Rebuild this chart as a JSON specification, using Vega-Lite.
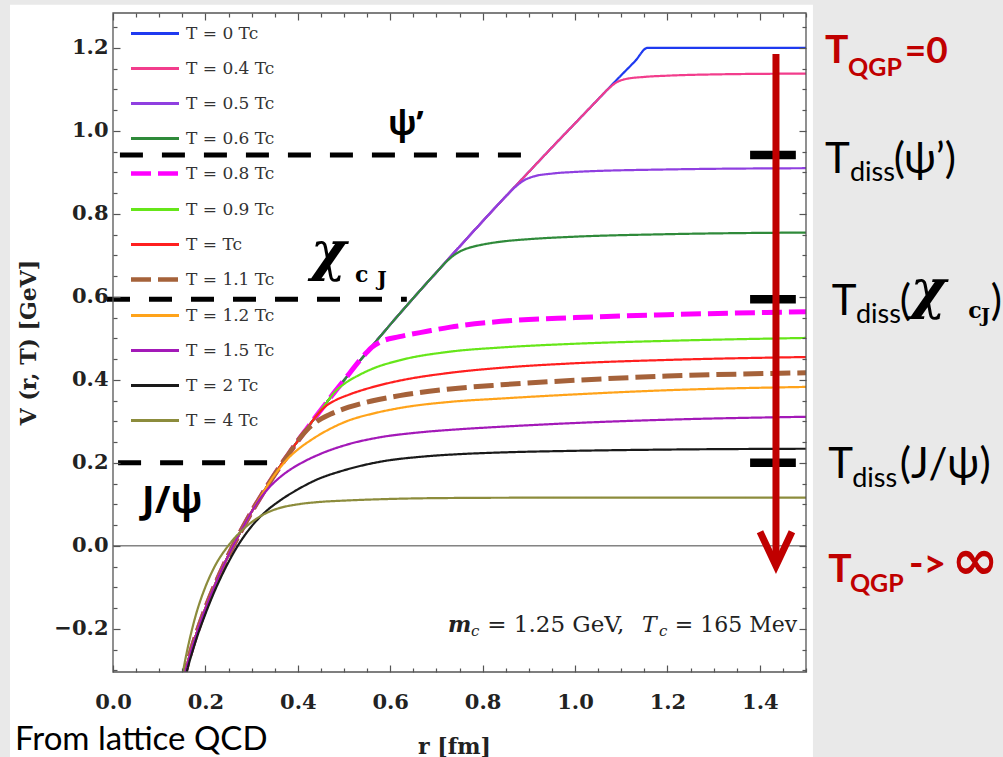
{
  "$schema": "https://vega.github.io/schema/vega-lite/v6.json",
  "width": 693,
  "height": 659,
  "autosize": {"type": "none"},
  "padding": {"left": 113, "top": 13, "right": 197, "bottom": 85},
  "background": "#e9e9e9",
  "config": {
    "view": {"stroke": null},
    "legend": {
      "orient": "none",
      "legendX": 33.5,
      "legendY": 12,
      "padding": 0,
      "symbolType": "M-6,0H6",
      "symbolSize": 64,
      "labelOffset": 22.5,
      "labelFont": "DejaVu Serif",
      "labelFontSize": 17,
      "labelColor": "#333",
      "rowPadding": 17,
      "labelLimit": 200,
      "zindex": 2
    }
  },
  "datasets": {
    "potential": [
      {"T":"0","r":0.15,"v":-0.33},{"T":"0","r":0.16,"v":-0.288},{"T":"0","r":0.17,"v":-0.249},{"T":"0","r":0.18,"v":-0.214},{"T":"0","r":0.2,"v":-0.151},{"T":"0","r":0.22,"v":-0.096},{"T":"0","r":0.24,"v":-0.046},{"T":"0","r":0.26,"v":0.0},{"T":"0","r":0.28,"v":0.042},{"T":"0","r":0.3,"v":0.082},{"T":"0","r":0.32,"v":0.119},{"T":"0","r":0.34,"v":0.155},{"T":"0","r":0.36,"v":0.189},{"T":"0","r":0.38,"v":0.221},{"T":"0","r":0.4,"v":0.253},{"T":"0","r":0.42,"v":0.283},{"T":"0","r":0.44,"v":0.313},{"T":"0","r":0.46,"v":0.342},{"T":"0","r":0.48,"v":0.371},{"T":"0","r":0.5,"v":0.399},{"T":"0","r":0.55,"v":0.467},{"T":"0","r":0.6,"v":0.533},{"T":"0","r":0.65,"v":0.597},{"T":"0","r":0.7,"v":0.659},{"T":"0","r":0.75,"v":0.721},{"T":"0","r":0.8,"v":0.782},{"T":"0","r":0.85,"v":0.842},{"T":"0","r":0.9,"v":0.901},{"T":"0","r":0.95,"v":0.96},{"T":"0","r":1.0,"v":1.018},{"T":"0","r":1.05,"v":1.076},{"T":"0","r":1.1,"v":1.134},{"T":"0","r":1.13,"v":1.168},{"T":"0","r":1.157,"v":1.2},{"T":"0","r":1.5,"v":1.2},

      {"T":"0.4","r":0.15,"v":-0.33},{"T":"0.4","r":0.16,"v":-0.288},{"T":"0.4","r":0.17,"v":-0.249},{"T":"0.4","r":0.18,"v":-0.214},{"T":"0.4","r":0.2,"v":-0.151},{"T":"0.4","r":0.22,"v":-0.096},{"T":"0.4","r":0.24,"v":-0.046},{"T":"0.4","r":0.26,"v":0.0},{"T":"0.4","r":0.28,"v":0.042},{"T":"0.4","r":0.3,"v":0.082},{"T":"0.4","r":0.32,"v":0.119},{"T":"0.4","r":0.34,"v":0.155},{"T":"0.4","r":0.36,"v":0.189},{"T":"0.4","r":0.38,"v":0.221},{"T":"0.4","r":0.4,"v":0.253},{"T":"0.4","r":0.42,"v":0.283},{"T":"0.4","r":0.44,"v":0.313},{"T":"0.4","r":0.46,"v":0.342},{"T":"0.4","r":0.48,"v":0.371},{"T":"0.4","r":0.5,"v":0.399},{"T":"0.4","r":0.55,"v":0.467},{"T":"0.4","r":0.6,"v":0.533},{"T":"0.4","r":0.65,"v":0.597},{"T":"0.4","r":0.7,"v":0.659},{"T":"0.4","r":0.75,"v":0.721},{"T":"0.4","r":0.8,"v":0.782},{"T":"0.4","r":0.85,"v":0.842},{"T":"0.4","r":0.9,"v":0.901},{"T":"0.4","r":0.95,"v":0.96},{"T":"0.4","r":1.0,"v":1.018},{"T":"0.4","r":1.05,"v":1.076},{"T":"0.4","r":1.07,"v":1.099},{"T":"0.4","r":1.09,"v":1.117},{"T":"0.4","r":1.11,"v":1.125},{"T":"0.4","r":1.15,"v":1.13},{"T":"0.4","r":1.2,"v":1.133},{"T":"0.4","r":1.3,"v":1.136},{"T":"0.4","r":1.5,"v":1.138},

      {"T":"0.5","r":0.15,"v":-0.33},{"T":"0.5","r":0.16,"v":-0.288},{"T":"0.5","r":0.17,"v":-0.249},{"T":"0.5","r":0.18,"v":-0.214},{"T":"0.5","r":0.2,"v":-0.151},{"T":"0.5","r":0.22,"v":-0.096},{"T":"0.5","r":0.24,"v":-0.046},{"T":"0.5","r":0.26,"v":0.0},{"T":"0.5","r":0.28,"v":0.042},{"T":"0.5","r":0.3,"v":0.082},{"T":"0.5","r":0.32,"v":0.119},{"T":"0.5","r":0.34,"v":0.155},{"T":"0.5","r":0.36,"v":0.189},{"T":"0.5","r":0.38,"v":0.221},{"T":"0.5","r":0.4,"v":0.253},{"T":"0.5","r":0.42,"v":0.283},{"T":"0.5","r":0.44,"v":0.313},{"T":"0.5","r":0.46,"v":0.342},{"T":"0.5","r":0.48,"v":0.371},{"T":"0.5","r":0.5,"v":0.399},{"T":"0.5","r":0.55,"v":0.467},{"T":"0.5","r":0.6,"v":0.533},{"T":"0.5","r":0.65,"v":0.597},{"T":"0.5","r":0.7,"v":0.659},{"T":"0.5","r":0.75,"v":0.721},{"T":"0.5","r":0.8,"v":0.782},{"T":"0.5","r":0.85,"v":0.842},{"T":"0.5","r":0.87,"v":0.864},{"T":"0.5","r":0.89,"v":0.881},{"T":"0.5","r":0.91,"v":0.89},{"T":"0.5","r":0.95,"v":0.897},{"T":"0.5","r":1.0,"v":0.901},{"T":"0.5","r":1.2,"v":0.907},{"T":"0.5","r":1.5,"v":0.91},

      {"T":"0.6","r":0.15,"v":-0.33},{"T":"0.6","r":0.16,"v":-0.288},{"T":"0.6","r":0.17,"v":-0.249},{"T":"0.6","r":0.18,"v":-0.214},{"T":"0.6","r":0.2,"v":-0.151},{"T":"0.6","r":0.22,"v":-0.096},{"T":"0.6","r":0.24,"v":-0.046},{"T":"0.6","r":0.26,"v":0.0},{"T":"0.6","r":0.28,"v":0.042},{"T":"0.6","r":0.3,"v":0.082},{"T":"0.6","r":0.32,"v":0.119},{"T":"0.6","r":0.34,"v":0.155},{"T":"0.6","r":0.36,"v":0.189},{"T":"0.6","r":0.38,"v":0.221},{"T":"0.6","r":0.4,"v":0.253},{"T":"0.6","r":0.42,"v":0.283},{"T":"0.6","r":0.44,"v":0.313},{"T":"0.6","r":0.46,"v":0.342},{"T":"0.6","r":0.48,"v":0.371},{"T":"0.6","r":0.5,"v":0.399},{"T":"0.6","r":0.55,"v":0.467},{"T":"0.6","r":0.6,"v":0.533},{"T":"0.6","r":0.65,"v":0.597},{"T":"0.6","r":0.7,"v":0.659},{"T":"0.6","r":0.72,"v":0.683},{"T":"0.6","r":0.74,"v":0.702},{"T":"0.6","r":0.76,"v":0.714},{"T":"0.6","r":0.78,"v":0.721},{"T":"0.6","r":0.8,"v":0.726},{"T":"0.6","r":0.84,"v":0.733},{"T":"0.6","r":0.9,"v":0.739},{"T":"0.6","r":1.0,"v":0.745},{"T":"0.6","r":1.2,"v":0.751},{"T":"0.6","r":1.5,"v":0.755},

      {"T":"0.8","r":0.15,"v":-0.33},{"T":"0.8","r":0.16,"v":-0.288},{"T":"0.8","r":0.17,"v":-0.249},{"T":"0.8","r":0.18,"v":-0.214},{"T":"0.8","r":0.2,"v":-0.151},{"T":"0.8","r":0.22,"v":-0.096},{"T":"0.8","r":0.24,"v":-0.046},{"T":"0.8","r":0.26,"v":0.0},{"T":"0.8","r":0.28,"v":0.042},{"T":"0.8","r":0.3,"v":0.082},{"T":"0.8","r":0.32,"v":0.119},{"T":"0.8","r":0.34,"v":0.155},{"T":"0.8","r":0.36,"v":0.189},{"T":"0.8","r":0.38,"v":0.221},{"T":"0.8","r":0.4,"v":0.253},{"T":"0.8","r":0.42,"v":0.283},{"T":"0.8","r":0.44,"v":0.313},{"T":"0.8","r":0.46,"v":0.342},{"T":"0.8","r":0.48,"v":0.371},{"T":"0.8","r":0.5,"v":0.399},{"T":"0.8","r":0.55,"v":0.467},{"T":"0.8","r":0.56,"v":0.478},{"T":"0.8","r":0.58,"v":0.492},{"T":"0.8","r":0.62,"v":0.504},{"T":"0.8","r":0.68,"v":0.517},{"T":"0.8","r":0.73,"v":0.527},{"T":"0.8","r":0.84,"v":0.541},{"T":"0.8","r":1.0,"v":0.55},{"T":"0.8","r":1.2,"v":0.557},{"T":"0.8","r":1.5,"v":0.564},

      {"T":"0.9","r":0.15,"v":-0.33},{"T":"0.9","r":0.16,"v":-0.288},{"T":"0.9","r":0.17,"v":-0.249},{"T":"0.9","r":0.18,"v":-0.214},{"T":"0.9","r":0.2,"v":-0.151},{"T":"0.9","r":0.22,"v":-0.096},{"T":"0.9","r":0.24,"v":-0.046},{"T":"0.9","r":0.26,"v":0.0},{"T":"0.9","r":0.28,"v":0.042},{"T":"0.9","r":0.3,"v":0.082},{"T":"0.9","r":0.32,"v":0.119},{"T":"0.9","r":0.34,"v":0.155},{"T":"0.9","r":0.36,"v":0.189},{"T":"0.9","r":0.38,"v":0.221},{"T":"0.9","r":0.4,"v":0.253},{"T":"0.9","r":0.42,"v":0.283},{"T":"0.9","r":0.44,"v":0.313},{"T":"0.9","r":0.46,"v":0.342},{"T":"0.9","r":0.48,"v":0.371},{"T":"0.9","r":0.5,"v":0.39},{"T":"0.9","r":0.53,"v":0.41},{"T":"0.9","r":0.56,"v":0.426},{"T":"0.9","r":0.62,"v":0.447},{"T":"0.9","r":0.73,"v":0.468},{"T":"0.9","r":0.84,"v":0.478},{"T":"0.9","r":1.0,"v":0.487},{"T":"0.9","r":1.2,"v":0.494},{"T":"0.9","r":1.5,"v":0.501},

      {"T":"1","r":0.15,"v":-0.33},{"T":"1","r":0.16,"v":-0.288},{"T":"1","r":0.17,"v":-0.249},{"T":"1","r":0.18,"v":-0.214},{"T":"1","r":0.2,"v":-0.151},{"T":"1","r":0.22,"v":-0.096},{"T":"1","r":0.24,"v":-0.046},{"T":"1","r":0.26,"v":0.0},{"T":"1","r":0.28,"v":0.042},{"T":"1","r":0.3,"v":0.082},{"T":"1","r":0.32,"v":0.119},{"T":"1","r":0.34,"v":0.155},{"T":"1","r":0.36,"v":0.189},{"T":"1","r":0.38,"v":0.221},{"T":"1","r":0.4,"v":0.253},{"T":"1","r":0.42,"v":0.283},{"T":"1","r":0.44,"v":0.313},{"T":"1","r":0.46,"v":0.336},{"T":"1","r":0.48,"v":0.35},{"T":"1","r":0.51,"v":0.364},{"T":"1","r":0.56,"v":0.382},{"T":"1","r":0.62,"v":0.398},{"T":"1","r":0.73,"v":0.417},{"T":"1","r":0.84,"v":0.429},{"T":"1","r":1.0,"v":0.44},{"T":"1","r":1.2,"v":0.448},{"T":"1","r":1.5,"v":0.455},

      {"T":"1.1","r":0.15,"v":-0.33},{"T":"1.1","r":0.16,"v":-0.288},{"T":"1.1","r":0.17,"v":-0.249},{"T":"1.1","r":0.18,"v":-0.214},{"T":"1.1","r":0.2,"v":-0.151},{"T":"1.1","r":0.22,"v":-0.096},{"T":"1.1","r":0.24,"v":-0.046},{"T":"1.1","r":0.26,"v":0.0},{"T":"1.1","r":0.28,"v":0.042},{"T":"1.1","r":0.3,"v":0.082},{"T":"1.1","r":0.32,"v":0.119},{"T":"1.1","r":0.34,"v":0.155},{"T":"1.1","r":0.36,"v":0.189},{"T":"1.1","r":0.38,"v":0.221},{"T":"1.1","r":0.4,"v":0.253},{"T":"1.1","r":0.42,"v":0.28},{"T":"1.1","r":0.44,"v":0.299},{"T":"1.1","r":0.47,"v":0.317},{"T":"1.1","r":0.51,"v":0.334},{"T":"1.1","r":0.56,"v":0.349},{"T":"1.1","r":0.62,"v":0.362},{"T":"1.1","r":0.73,"v":0.378},{"T":"1.1","r":0.84,"v":0.388},{"T":"1.1","r":1.0,"v":0.399},{"T":"1.1","r":1.2,"v":0.409},{"T":"1.1","r":1.5,"v":0.417},

      {"T":"1.2","r":0.15,"v":-0.33},{"T":"1.2","r":0.16,"v":-0.288},{"T":"1.2","r":0.17,"v":-0.249},{"T":"1.2","r":0.18,"v":-0.214},{"T":"1.2","r":0.2,"v":-0.151},{"T":"1.2","r":0.22,"v":-0.096},{"T":"1.2","r":0.24,"v":-0.046},{"T":"1.2","r":0.26,"v":0.0},{"T":"1.2","r":0.28,"v":0.042},{"T":"1.2","r":0.3,"v":0.082},{"T":"1.2","r":0.32,"v":0.119},{"T":"1.2","r":0.34,"v":0.155},{"T":"1.2","r":0.36,"v":0.186},{"T":"1.2","r":0.38,"v":0.212},{"T":"1.2","r":0.4,"v":0.232},{"T":"1.2","r":0.43,"v":0.256},{"T":"1.2","r":0.47,"v":0.282},{"T":"1.2","r":0.51,"v":0.302},{"T":"1.2","r":0.56,"v":0.318},{"T":"1.2","r":0.62,"v":0.332},{"T":"1.2","r":0.73,"v":0.347},{"T":"1.2","r":0.84,"v":0.355},{"T":"1.2","r":1.0,"v":0.365},{"T":"1.2","r":1.2,"v":0.375},{"T":"1.2","r":1.5,"v":0.383},

      {"T":"1.5","r":0.15,"v":-0.33},{"T":"1.5","r":0.16,"v":-0.288},{"T":"1.5","r":0.17,"v":-0.249},{"T":"1.5","r":0.18,"v":-0.214},{"T":"1.5","r":0.2,"v":-0.151},{"T":"1.5","r":0.22,"v":-0.096},{"T":"1.5","r":0.24,"v":-0.046},{"T":"1.5","r":0.26,"v":0.0},{"T":"1.5","r":0.28,"v":0.042},{"T":"1.5","r":0.3,"v":0.082},{"T":"1.5","r":0.32,"v":0.116},{"T":"1.5","r":0.34,"v":0.143},{"T":"1.5","r":0.36,"v":0.164},{"T":"1.5","r":0.38,"v":0.181},{"T":"1.5","r":0.41,"v":0.201},{"T":"1.5","r":0.45,"v":0.222},{"T":"1.5","r":0.51,"v":0.245},{"T":"1.5","r":0.58,"v":0.262},{"T":"1.5","r":0.66,"v":0.273},{"T":"1.5","r":0.75,"v":0.281},{"T":"1.5","r":0.84,"v":0.287},{"T":"1.5","r":1.0,"v":0.296},{"T":"1.5","r":1.2,"v":0.304},{"T":"1.5","r":1.5,"v":0.311},

      {"T":"2","r":0.15,"v":-0.352},{"T":"2","r":0.16,"v":-0.302},{"T":"2","r":0.17,"v":-0.262},{"T":"2","r":0.18,"v":-0.226},{"T":"2","r":0.2,"v":-0.164},{"T":"2","r":0.22,"v":-0.109},{"T":"2","r":0.24,"v":-0.061},{"T":"2","r":0.27,"v":0.0},{"T":"2","r":0.3,"v":0.047},{"T":"2","r":0.33,"v":0.082},{"T":"2","r":0.36,"v":0.108},{"T":"2","r":0.4,"v":0.136},{"T":"2","r":0.44,"v":0.159},{"T":"2","r":0.5,"v":0.182},{"T":"2","r":0.58,"v":0.203},{"T":"2","r":0.67,"v":0.215},{"T":"2","r":0.75,"v":0.221},{"T":"2","r":0.84,"v":0.225},{"T":"2","r":1.0,"v":0.229},{"T":"2","r":1.2,"v":0.232},{"T":"2","r":1.5,"v":0.234},

      {"T":"4","r":0.15,"v":-0.312},{"T":"4","r":0.16,"v":-0.255},{"T":"4","r":0.17,"v":-0.206},{"T":"4","r":0.18,"v":-0.164},{"T":"4","r":0.2,"v":-0.099},{"T":"4","r":0.22,"v":-0.05},{"T":"4","r":0.25,"v":0.001},{"T":"4","r":0.28,"v":0.038},{"T":"4","r":0.3,"v":0.057},{"T":"4","r":0.33,"v":0.078},{"T":"4","r":0.36,"v":0.091},{"T":"4","r":0.4,"v":0.1},{"T":"4","r":0.45,"v":0.106},{"T":"4","r":0.5,"v":0.109},{"T":"4","r":0.6,"v":0.113},{"T":"4","r":0.7,"v":0.115},{"T":"4","r":0.9,"v":0.116},{"T":"4","r":1.5,"v":0.116}
    ],
    "levels": [
      {"state": "psi'", "v": 0.942, "r0": 0.015, "r1": 0.885},
      {"state": "chi_cJ", "v": 0.594, "r0": -0.013, "r1": 0.636},
      {"state": "J/psi", "v": 0.2, "r0": 0.011, "r1": 0.335}
    ],
    "one": [{}]
  },
  "resolve": {"axis": {"x": "independent", "y": "independent"}},
  "layer": [
    {
      "data": {"name": "one"},
      "mark": {"type": "rect", "fill": "#ffffff"},
      "encoding": {
        "x": {"datum": -0.223, "type": "quantitative", "axis": null, "scale": {"domain": [0, 1.5], "nice": false, "zero": false}},
        "x2": {"datum": 1.515},
        "y": {"datum": 1.304, "type": "quantitative", "axis": null, "scale": {"domain": [-0.304, 1.284], "nice": false, "zero": false}},
        "y2": {"datum": -0.53}
      }
    },
    {
      "data": {"name": "one"},
      "mark": {"type": "rule", "color": "#444", "strokeWidth": 1},
      "encoding": {
        "x": {"datum": 0, "type": "quantitative", "axis": {"orient": "top", "zindex": 1, "values": [0,0.05,0.1,0.15,0.2,0.25,0.3,0.35,0.4,0.45,0.5,0.55,0.6,0.65,0.7,0.75,0.8,0.85,0.9,0.95,1,1.05,1.1,1.15,1.2,1.25,1.3,1.35,1.4,1.45,1.5], "labels": false, "domain": false, "grid": false, "title": null, "tickColor": "#555", "tickWidth": 1.2, "tickSize": {"condition": {"test": "abs(datum.value*5-round(datum.value*5))<0.01", "value": -7}, "value": -4}}},
        "x2": {"datum": 1.5},
        "y": {"datum": 0, "type": "quantitative", "axis": {"orient": "right", "zindex": 1, "values": [-0.3,-0.25,-0.2,-0.15,-0.1,-0.05,0,0.05,0.1,0.15,0.2,0.25,0.3,0.35,0.4,0.45,0.5,0.55,0.6,0.65,0.7,0.75,0.8,0.85,0.9,0.95,1,1.05,1.1,1.15,1.2,1.25], "labels": false, "domain": false, "grid": false, "title": null, "tickColor": "#555", "tickWidth": 1.2, "tickSize": {"condition": {"test": "abs(datum.value*5-round(datum.value*5))<0.01", "value": -7}, "value": -4}}}
      }
    },
    {
      "data": {"name": "levels"},
      "mark": {"type": "rule", "color": "#000", "strokeWidth": 5, "strokeDash": [23, 19], "strokeCap": "butt"},
      "encoding": {
        "x": {"field": "r0", "type": "quantitative", "axis": null},
        "x2": {"field": "r1"},
        "y": {"field": "v", "type": "quantitative", "axis": null}
      }
    },
    {
      "data": {"name": "potential"},
      "transform": [{"filter": "indexof(['0','0.4','0.5','0.6'], datum.T) >= 0"}],
      "mark": {"type": "line", "clip": true, "interpolate": "monotone", "strokeCap": "butt", "strokeWidth": 2.2},
      "encoding": {
        "x": {"field": "r", "type": "quantitative", "scale": {"domain": [0, 1.5], "nice": false, "zero": false},
          "axis": {"orient": "bottom", "zindex": 1, "values": [0, 0.2, 0.4, 0.6, 0.8, 1, 1.2, 1.4], "format": ".1f", "ticks": false, "domain": false, "grid": false,
            "labelFont": "DejaVu Serif", "labelFontWeight": "bold", "labelFontSize": 21, "labelColor": "#222", "labelPadding": 19, "labelFlush": false,
            "title": "r [fm]", "titleFont": "DejaVu Serif", "titleFontWeight": "bold", "titleFontSize": 22, "titleColor": "#222", "titleX": 341, "titleY": 74, "titleAlign": "center", "titleBaseline": "middle"}},
        "y": {"field": "v", "type": "quantitative", "scale": {"domain": [-0.304, 1.284], "nice": false, "zero": false},
          "axis": {"orient": "left", "zindex": 1, "values": [-0.2, 0, 0.2, 0.4, 0.6, 0.8, 1, 1.2], "format": ".1f", "ticks": false, "domain": false, "grid": false,
            "labelFont": "DejaVu Serif", "labelFontWeight": "bold", "labelFontSize": 21, "labelColor": "#222", "labelPadding": 5, "labelFlush": false,
            "title": "V (r, T) [GeV]", "titleFont": "DejaVu Serif", "titleFontWeight": "bold", "titleFontSize": 22, "titleColor": "#222", "titleAngle": -90, "titleX": -85, "titleY": 329, "titleAlign": "center", "titleBaseline": "middle"}},
        "color": {"field": "T", "type": "nominal",
          "scale": {"domain": ["0","0.4","0.5","0.6","0.8","0.9","1","1.1","1.2","1.5","2","4"],
            "range": ["#1f3af0","#f23d8c","#8f3fe0","#2f8a3a","#ff00ff","#66e619","#ff1f1f","#a5623a","#ffa31a","#a319b8","#1a1a1a","#8c8c3c"]},
          "legend": {"title": null, "labelExpr": "datum.label == '1' ? 'T =  Tc' : 'T = ' + datum.label + ' Tc'",
            "encode": {"symbols": {"update": {"strokeWidth": {"signal": "indexof(['0.8','1.1'], datum.value) >= 0 ? 4.5 : 3"}}}}}},
        "strokeDash": {"field": "T", "type": "nominal",
          "scale": {"domain": ["0","0.4","0.5","0.6","0.8","0.9","1","1.1","1.2","1.5","2","4"],
            "range": [[1,0],[1,0],[1,0],[1,0],[20,7],[1,0],[1,0],[20,7],[1,0],[1,0],[1,0],[1,0]]},
          "legend": {"title": null, "labelExpr": "datum.label == '1' ? 'T =  Tc' : 'T = ' + datum.label + ' Tc'",
            "encode": {"symbols": {"update": {"strokeWidth": {"signal": "indexof(['0.8','1.1'], datum.value) >= 0 ? 4.5 : 3"}}}}}}
      }
    },
    {
      "data": {"name": "potential"},
      "transform": [{"filter": "datum.T == '0.8'"}],
      "mark": {"type": "line", "clip": true, "interpolate": "monotone", "strokeCap": "butt", "strokeWidth": 5},
      "encoding": {
        "x": {"field": "r", "type": "quantitative", "axis": null},
        "y": {"field": "v", "type": "quantitative", "axis": null},
        "color": {"field": "T", "type": "nominal"},
        "strokeDash": {"field": "T", "type": "nominal"}
      }
    },
    {
      "data": {"name": "potential"},
      "transform": [{"filter": "datum.T == '0.9' || datum.T == '1'"}],
      "mark": {"type": "line", "clip": true, "interpolate": "monotone", "strokeCap": "butt", "strokeWidth": 2.2},
      "encoding": {
        "x": {"field": "r", "type": "quantitative", "axis": null},
        "y": {"field": "v", "type": "quantitative", "axis": null},
        "color": {"field": "T", "type": "nominal"},
        "strokeDash": {"field": "T", "type": "nominal"}
      }
    },
    {
      "data": {"name": "potential"},
      "transform": [{"filter": "datum.T == '1.1'"}],
      "mark": {"type": "line", "clip": true, "interpolate": "monotone", "strokeCap": "butt", "strokeWidth": 5},
      "encoding": {
        "x": {"field": "r", "type": "quantitative", "axis": null},
        "y": {"field": "v", "type": "quantitative", "axis": null},
        "color": {"field": "T", "type": "nominal"},
        "strokeDash": {"field": "T", "type": "nominal"}
      }
    },
    {
      "data": {"name": "potential"},
      "transform": [{"filter": "indexof(['1.2','1.5','2','4'], datum.T) >= 0"}],
      "mark": {"type": "line", "clip": true, "interpolate": "monotone", "strokeCap": "butt", "strokeWidth": 2.2},
      "encoding": {
        "x": {"field": "r", "type": "quantitative", "axis": null},
        "y": {"field": "v", "type": "quantitative", "axis": null},
        "color": {"field": "T", "type": "nominal"},
        "strokeDash": {"field": "T", "type": "nominal"}
      }
    },
    {
      "data": {"name": "one"},
      "mark": {"type": "rect", "fill": null, "stroke": "#555", "strokeWidth": 1.3},
      "encoding": {
        "x": {"datum": 0, "type": "quantitative", "axis": {"orient": "bottom", "zindex": 1, "values": [0,0.05,0.1,0.15,0.2,0.25,0.3,0.35,0.4,0.45,0.5,0.55,0.6,0.65,0.7,0.75,0.8,0.85,0.9,0.95,1,1.05,1.1,1.15,1.2,1.25,1.3,1.35,1.4,1.45,1.5], "labels": false, "domain": false, "grid": false, "title": null, "tickColor": "#555", "tickWidth": 1.2, "tickSize": {"condition": {"test": "abs(datum.value*5-round(datum.value*5))<0.01", "value": -7}, "value": -4}}},
        "x2": {"datum": 1.5},
        "y": {"datum": -0.304, "type": "quantitative", "axis": {"orient": "left", "zindex": 1, "values": [-0.3,-0.25,-0.2,-0.15,-0.1,-0.05,0,0.05,0.1,0.15,0.2,0.25,0.3,0.35,0.4,0.45,0.5,0.55,0.6,0.65,0.7,0.75,0.8,0.85,0.9,0.95,1,1.05,1.1,1.15,1.2,1.25], "labels": false, "domain": false, "grid": false, "title": null, "tickColor": "#555", "tickWidth": 1.2, "tickSize": {"condition": {"test": "abs(datum.value*5-round(datum.value*5))<0.01", "value": -7}, "value": -4}}},
        "y2": {"datum": 1.284}
      }
    },
    {
      "data": {"name": "levels"},
      "mark": {"type": "rule", "color": "#000", "strokeWidth": 8.5, "strokeCap": "butt"},
      "encoding": {
        "x": {"datum": 1.379, "type": "quantitative", "axis": null},
        "x2": {"datum": 1.478},
        "y": {"field": "v", "type": "quantitative", "axis": null}
      }
    },
    {
      "data": {"name": "one"},
      "mark": {"type": "rule", "color": "#c00000", "strokeWidth": 7, "strokeCap": "butt"},
      "encoding": {
        "x": {"datum": 1.435, "type": "quantitative", "axis": null},
        "y": {"datum": 1.185, "type": "quantitative", "axis": null},
        "y2": {"datum": -0.03}
      }
    },
    {
      "data": {"name": "one"},
      "mark": {"type": "point", "shape": "M-0.47,-1L0,0L0.47,-1", "size": 4624, "filled": false, "stroke": "#c00000", "strokeWidth": 7, "opacity": 1, "strokeJoin": "miter"},
      "encoding": {
        "x": {"datum": 1.435, "type": "quantitative", "axis": null},
        "y": {"datum": -0.048, "type": "quantitative", "axis": null}
      }
    },
    {
      "data": {"name": "one"},
      "mark": {"type": "text", "text": "ψ’", "font": "Open Sans", "fontSize": 34, "fontWeight": "bold", "color": "#000", "align": "left", "baseline": "alphabetic"},
      "encoding": {"x": {"datum": 0.595, "type": "quantitative", "axis": null}, "y": {"datum": 0.99, "type": "quantitative", "axis": null}}
    },
    {
      "data": {"name": "one"},
      "mark": {"type": "text", "text": "J/ψ", "font": "Open Sans", "fontSize": 38, "fontWeight": "bold", "color": "#000", "align": "left", "baseline": "alphabetic"},
      "encoding": {"x": {"datum": 0.063, "type": "quantitative", "axis": null}, "y": {"datum": 0.08, "type": "quantitative", "axis": null}}
    },
    {
      "data": {"name": "one"},
      "mark": {"type": "text", "text": "χ", "font": "DejaVu Serif", "fontSize": 54, "fontWeight": "bold", "fontStyle": "italic", "color": "#000", "align": "left", "baseline": "alphabetic"},
      "encoding": {"x": {"datum": 0.428, "type": "quantitative", "axis": null}, "y": {"datum": 0.665, "type": "quantitative", "axis": null}}
    },
    {
      "data": {"name": "one"},
      "mark": {"type": "text", "text": "c", "font": "DejaVu Serif", "fontSize": 22, "fontWeight": "bold", "color": "#000", "align": "left", "baseline": "alphabetic"},
      "encoding": {"x": {"datum": 0.524, "type": "quantitative", "axis": null}, "y": {"datum": 0.636, "type": "quantitative", "axis": null}}
    },
    {
      "data": {"name": "one"},
      "mark": {"type": "text", "text": "J", "font": "DejaVu Serif", "fontSize": 20, "fontWeight": "bold", "color": "#000", "align": "left", "baseline": "alphabetic"},
      "encoding": {"x": {"datum": 0.572, "type": "quantitative", "axis": null}, "y": {"datum": 0.627, "type": "quantitative", "axis": null}}
    },
    {
      "data": {"name": "one"},
      "mark": {"type": "text", "text": "m", "font": "DejaVu Serif", "fontSize": 22, "fontWeight": "bold", "fontStyle": "italic", "color": "#222", "align": "left", "baseline": "alphabetic"},
      "encoding": {"x": {"datum": 0.725, "type": "quantitative", "axis": null}, "y": {"datum": -0.207, "type": "quantitative", "axis": null}}
    },
    {
      "data": {"name": "one"},
      "mark": {"type": "text", "text": "c", "font": "DejaVu Serif", "fontSize": 15, "fontStyle": "italic", "color": "#222", "align": "left", "baseline": "alphabetic"},
      "encoding": {"x": {"datum": 0.775, "type": "quantitative", "axis": null}, "y": {"datum": -0.218, "type": "quantitative", "axis": null}}
    },
    {
      "data": {"name": "one"},
      "mark": {"type": "text", "text": "= 1.25 GeV,", "font": "DejaVu Serif", "fontSize": 23, "color": "#222", "align": "left", "baseline": "alphabetic"},
      "encoding": {"x": {"datum": 0.81, "type": "quantitative", "axis": null}, "y": {"datum": -0.207, "type": "quantitative", "axis": null}}
    },
    {
      "data": {"name": "one"},
      "mark": {"type": "text", "text": "T", "font": "DejaVu Serif", "fontSize": 22, "fontStyle": "italic", "color": "#222", "align": "left", "baseline": "alphabetic"},
      "encoding": {"x": {"datum": 1.145, "type": "quantitative", "axis": null}, "y": {"datum": -0.207, "type": "quantitative", "axis": null}}
    },
    {
      "data": {"name": "one"},
      "mark": {"type": "text", "text": "c", "font": "DejaVu Serif", "fontSize": 15, "fontStyle": "italic", "color": "#222", "align": "left", "baseline": "alphabetic"},
      "encoding": {"x": {"datum": 1.182, "type": "quantitative", "axis": null}, "y": {"datum": -0.218, "type": "quantitative", "axis": null}}
    },
    {
      "data": {"name": "one"},
      "mark": {"type": "text", "text": "= 165 Mev", "font": "DejaVu Serif", "fontSize": 22, "color": "#222", "align": "left", "baseline": "alphabetic"},
      "encoding": {"x": {"datum": 1.216, "type": "quantitative", "axis": null}, "y": {"datum": -0.207, "type": "quantitative", "axis": null}}
    },
    {
      "data": {"name": "one"},
      "mark": {"type": "text", "text": "From lattice QCD", "font": "Lato", "fontSize": 33, "color": "#000", "align": "left", "baseline": "alphabetic"},
      "encoding": {"x": {"datum": -0.212, "type": "quantitative", "axis": null}, "y": {"datum": -0.4916, "type": "quantitative", "axis": null}}
    },
    {
      "data": {"name": "one"},
      "mark": {"type": "text", "text": "T", "font": "Lato", "fontSize": 39, "fontWeight": "bold", "color": "#c00000", "align": "left", "baseline": "alphabetic"},
      "encoding": {"x": {"datum": 1.541, "type": "quantitative", "axis": null}, "y": {"datum": 1.164, "type": "quantitative", "axis": null}}
    },
    {
      "data": {"name": "one"},
      "mark": {"type": "text", "text": "QGP", "font": "Lato", "fontSize": 25, "fontWeight": "bold", "color": "#c00000", "align": "left", "baseline": "alphabetic"},
      "encoding": {"x": {"datum": 1.591, "type": "quantitative", "axis": null}, "y": {"datum": 1.133, "type": "quantitative", "axis": null}}
    },
    {
      "data": {"name": "one"},
      "mark": {"type": "text", "text": "=0", "font": "Lato", "fontSize": 37, "fontWeight": "bold", "color": "#c00000", "align": "left", "baseline": "alphabetic"},
      "encoding": {"x": {"datum": 1.714, "type": "quantitative", "axis": null}, "y": {"datum": 1.164, "type": "quantitative", "axis": null}}
    },
    {
      "data": {"name": "one"},
      "mark": {"type": "text", "text": "T", "font": "Lato", "fontSize": 42, "color": "#000", "align": "left", "baseline": "alphabetic"},
      "encoding": {"x": {"datum": 1.541, "type": "quantitative", "axis": null}, "y": {"datum": 0.899, "type": "quantitative", "axis": null}}
    },
    {
      "data": {"name": "one"},
      "mark": {"type": "text", "text": "diss", "font": "Lato", "fontSize": 27, "color": "#000", "align": "left", "baseline": "alphabetic"},
      "encoding": {"x": {"datum": 1.595, "type": "quantitative", "axis": null}, "y": {"datum": 0.88, "type": "quantitative", "axis": null}}
    },
    {
      "data": {"name": "one"},
      "mark": {"type": "text", "text": "(ψ’)", "font": "Lato, Open Sans", "fontSize": 42, "color": "#000", "align": "left", "baseline": "alphabetic"},
      "encoding": {"x": {"datum": 1.69, "type": "quantitative", "axis": null}, "y": {"datum": 0.899, "type": "quantitative", "axis": null}}
    },
    {
      "data": {"name": "one"},
      "mark": {"type": "text", "text": "T", "font": "Lato", "fontSize": 42, "color": "#000", "align": "left", "baseline": "alphabetic"},
      "encoding": {"x": {"datum": 1.556, "type": "quantitative", "axis": null}, "y": {"datum": 0.557, "type": "quantitative", "axis": null}}
    },
    {
      "data": {"name": "one"},
      "mark": {"type": "text", "text": "diss", "font": "Lato", "fontSize": 27, "color": "#000", "align": "left", "baseline": "alphabetic"},
      "encoding": {"x": {"datum": 1.608, "type": "quantitative", "axis": null}, "y": {"datum": 0.537, "type": "quantitative", "axis": null}}
    },
    {
      "data": {"name": "one"},
      "mark": {"type": "text", "text": "(", "font": "Lato", "fontSize": 42, "color": "#000", "align": "left", "baseline": "alphabetic"},
      "encoding": {"x": {"datum": 1.703, "type": "quantitative", "axis": null}, "y": {"datum": 0.557, "type": "quantitative", "axis": null}}
    },
    {
      "data": {"name": "one"},
      "mark": {"type": "text", "text": "χ", "font": "DejaVu Serif", "fontSize": 54, "fontWeight": "bold", "fontStyle": "italic", "color": "#000", "align": "left", "baseline": "alphabetic"},
      "encoding": {"x": {"datum": 1.726, "type": "quantitative", "axis": null}, "y": {"datum": 0.572, "type": "quantitative", "axis": null}}
    },
    {
      "data": {"name": "one"},
      "mark": {"type": "text", "text": "c", "font": "DejaVu Serif", "fontSize": 22, "fontWeight": "bold", "color": "#000", "align": "left", "baseline": "alphabetic"},
      "encoding": {"x": {"datum": 1.851, "type": "quantitative", "axis": null}, "y": {"datum": 0.549, "type": "quantitative", "axis": null}}
    },
    {
      "data": {"name": "one"},
      "mark": {"type": "text", "text": "J", "font": "DejaVu Serif", "fontSize": 19, "fontWeight": "bold", "color": "#000", "align": "left", "baseline": "alphabetic"},
      "encoding": {"x": {"datum": 1.879, "type": "quantitative", "axis": null}, "y": {"datum": 0.54, "type": "quantitative", "axis": null}}
    },
    {
      "data": {"name": "one"},
      "mark": {"type": "text", "text": ")", "font": "Lato", "fontSize": 42, "color": "#000", "align": "left", "baseline": "alphabetic"},
      "encoding": {"x": {"datum": 1.9, "type": "quantitative", "axis": null}, "y": {"datum": 0.557, "type": "quantitative", "axis": null}}
    },
    {
      "data": {"name": "one"},
      "mark": {"type": "text", "text": "T", "font": "Lato", "fontSize": 42, "color": "#000", "align": "left", "baseline": "alphabetic"},
      "encoding": {"x": {"datum": 1.548, "type": "quantitative", "axis": null}, "y": {"datum": 0.164, "type": "quantitative", "axis": null}}
    },
    {
      "data": {"name": "one"},
      "mark": {"type": "text", "text": "diss", "font": "Lato", "fontSize": 27, "color": "#000", "align": "left", "baseline": "alphabetic"},
      "encoding": {"x": {"datum": 1.6, "type": "quantitative", "axis": null}, "y": {"datum": 0.142, "type": "quantitative", "axis": null}}
    },
    {
      "data": {"name": "one"},
      "mark": {"type": "text", "text": "(J/ψ)", "font": "Lato, Open Sans", "fontSize": 42, "color": "#000", "align": "left", "baseline": "alphabetic"},
      "encoding": {"x": {"datum": 1.703, "type": "quantitative", "axis": null}, "y": {"datum": 0.164, "type": "quantitative", "axis": null}}
    },
    {
      "data": {"name": "one"},
      "mark": {"type": "text", "text": "T", "font": "Lato", "fontSize": 39, "fontWeight": "bold", "color": "#c00000", "align": "left", "baseline": "alphabetic"},
      "encoding": {"x": {"datum": 1.548, "type": "quantitative", "axis": null}, "y": {"datum": -0.087, "type": "quantitative", "axis": null}}
    },
    {
      "data": {"name": "one"},
      "mark": {"type": "text", "text": "QGP", "font": "Lato", "fontSize": 25, "fontWeight": "bold", "color": "#c00000", "align": "left", "baseline": "alphabetic"},
      "encoding": {"x": {"datum": 1.595, "type": "quantitative", "axis": null}, "y": {"datum": -0.111, "type": "quantitative", "axis": null}}
    },
    {
      "data": {"name": "one"},
      "mark": {"type": "text", "text": "->", "font": "Lato", "fontSize": 39, "fontWeight": "bold", "color": "#c00000", "align": "left", "baseline": "alphabetic"},
      "encoding": {"x": {"datum": 1.723, "type": "quantitative", "axis": null}, "y": {"datum": -0.075, "type": "quantitative", "axis": null}}
    },
    {
      "data": {"name": "one"},
      "mark": {"type": "text", "text": "∞", "font": "DejaVu Sans", "fontSize": 56, "fontWeight": "bold", "color": "#c00000", "align": "left", "baseline": "alphabetic"},
      "encoding": {"x": {"datum": 1.815, "type": "quantitative", "axis": null}, "y": {"datum": -0.08, "type": "quantitative", "axis": null}}
    }
  ]
}
